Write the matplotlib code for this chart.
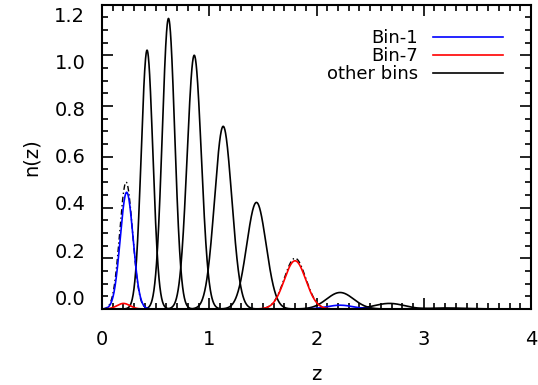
import numpy as np
import matplotlib
matplotlib.use("Agg")
import matplotlib.pyplot as plt
from matplotlib.ticker import MultipleLocator
from matplotlib.transforms import ScaledTranslation

# Peak parameters (centre z, peak n(z), width)
other_centers = [0.42, 0.62, 0.86, 1.13, 1.44, 2.22, 2.68, 3.20]
other_heights = [1.02, 1.145, 1.00, 0.72, 0.42, 0.065, 0.022, 0.004]
other_widths = [0.054, 0.058, 0.066, 0.080, 0.090, 0.125, 0.14, 0.20]

# true n(z) for bins 1 and 7 (black dash-dot under the coloured curves)
true_centers = [0.225, 1.80]
true_heights = [0.50, 0.20]
true_widths = [0.060, 0.10]

# Bin-1 (blue): main peak + small outlier bump
bin1_centers = [0.23, 2.22]
bin1_heights = [0.46, 0.015]
bin1_widths = [0.060, 0.12]

# Bin-7 (red): main peak + small low-z bump
bin7_centers = [1.80, 0.20]
bin7_heights = [0.19, 0.022]
bin7_widths = [0.10, 0.06]

xticks = [0, 1, 2, 3, 4]
yticks = [0.0, 0.2, 0.4, 0.6, 0.8, 1.0, 1.2]

z = np.linspace(0, 4, 2001)


def curve(cs, hs, ws):
    y = np.zeros_like(z)
    for c, h, w in zip(cs, hs, ws):
        y += h * np.exp(-0.5 * ((z - c) / w) ** 2)
    return y


plt.rcParams['font.family'] = ['DejaVu Sans']
fig = plt.figure(figsize=(5.38, 3.85), dpi=100)
ax = fig.add_axes([102 / 538, 1 - 309 / 385, (531 - 102) / 538, (309 - 4.5) / 385])

lw = 1.2
for c, h, w in zip(other_centers, other_heights, other_widths):
    ax.plot(z, curve([c], [h], [w]), color='black', lw=lw)
for c, h, w in zip(true_centers, true_heights, true_widths):
    ax.plot(z, curve([c], [h], [w]), color='black', lw=1.0, ls=(0, (4, 2, 1, 2)))

ax.plot(z, curve(bin1_centers, bin1_heights, bin1_widths), color='blue', lw=lw, label='Bin-1')
ax.plot(z, curve(bin7_centers, bin7_heights, bin7_widths), color='red', lw=lw, label='Bin-7')
ax.plot([], [], color='black', lw=lw, label='other bins')

ax.set_xlim(0, 4)
ax.set_ylim(0, 1.2)
ax.set_xticks(xticks)
ax.set_yticks(yticks)
ax.set_xticklabels([str(t) for t in xticks])
ax.set_yticklabels([f"{t:.1f}" for t in yticks])
ax.xaxis.set_minor_locator(MultipleLocator(0.1))
ax.yaxis.set_minor_locator(MultipleLocator(0.05))
ax.tick_params(which='both', direction='in', top=True, right=True, width=1.2)
ax.tick_params(which='major', length=8, labelsize=14)
ax.tick_params(which='minor', length=4)
ax.tick_params(axis='y', which='major', pad=12)
ax.tick_params(axis='x', which='major', pad=15)
for s in ax.spines.values():
    s.set_linewidth(1.5)

# the reference's y labels sit slightly compressed relative to the ticks
for v, lab in zip(yticks, ax.get_yticklabels()):
    i = (1.2 - v) / 0.2
    off = 9.5 - 3.5 * i
    lab.set_transform(lab.get_transform() + ScaledTranslation(0, -off / 100, fig.dpi_scale_trans))

ax.set_xlabel('z', fontsize=14, labelpad=12)
ax.set_ylabel('n(z)', fontsize=14, labelpad=10)

leg = ax.legend(loc='upper right', bbox_to_anchor=((503 - 102) / 429, 0.92),
                frameon=False, markerfirst=False, fontsize=13, handlelength=3.9,
                handletextpad=0.8, labelspacing=0.0, borderpad=0, borderaxespad=0)
for t in leg.get_texts():
    t.set_ha('right')

fig.savefig('out.png', dpi=100)
